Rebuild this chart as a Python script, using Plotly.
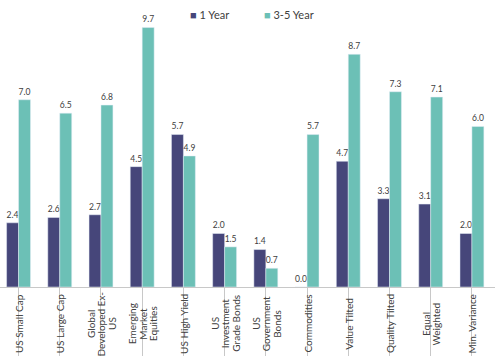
import plotly.graph_objects as go

categories = ["US Small Cap", "US Large Cap", "Global<br>Developed Ex-<br>US",
              "Emerging<br>Market<br>Equities", "US High Yield",
              "US<br>Investment<br>Grade Bonds", "US<br>Government<br>Bonds",
              "Commodities", "Value Tilted", "Quality Tilted",
              "Equal<br>Weighted", "Min. Variance"]
one_year = [2.4, 2.6, 2.7, 4.5, 5.7, 2.0, 1.4, 0.0, 4.7, 3.3, 3.1, 2.0]
three_five_year = [7.0, 6.5, 6.8, 9.7, 4.9, 1.5, 0.7, 5.7, 8.7, 7.3, 7.1, 6.0]
series_names = ["1 Year", "3-5 Year"]

NAVY = "#46467a"
TEAL = "#6cc0b6"
TXT = "#404040"
FONT = "Lato"

x = list(range(len(categories)))

fig = go.Figure()
for name, vals, col in [(series_names[0], one_year, NAVY), (series_names[1], three_five_year, TEAL)]:
    fig.add_trace(go.Bar(x=x, y=vals, name=name, marker_color=col,
                         text=[f"{v:.1f}" for v in vals], textposition="outside",
                         textfont=dict(color=TXT, size=12, family=FONT), cliponaxis=False))

W, H = 500, 356
mt, mb, ml, mr = 0, 69, 0, 5
plot_h = H - mt - mb
x_range = [-0.45, 11.56]
px_per_cat = (W - ml - mr) / (x_range[1] - x_range[0])
line_px = 10.5
y_mid = -(mb / 2 + 2) / plot_h

for i, c in enumerate(categories):
    lines = c.split("<br>")
    n = len(lines)
    for k, ln in enumerate(lines):
        off = (k - (n - 1) / 2) * line_px / px_per_cat
        fig.add_annotation(x=i + off, y=y_mid, xref="x", yref="paper",
                           text=ln, textangle=-90, showarrow=False,
                           xanchor="center", yanchor="middle", align="center",
                           font=dict(color=TXT, size=10, family=FONT))

# legend drawn as text entries
for name, col, lx in [(series_names[0], NAVY, 0.38), (series_names[1], TEAL, 0.53)]:
    fig.add_annotation(x=lx, y=1.0 - 14 / plot_h, xref="paper", yref="paper",
                       text=f'<span style="color:{col}">■</span> {name}',
                       showarrow=False, xanchor="left", yanchor="middle",
                       font=dict(color=TXT, size=11, family=FONT))

fig.update_layout(
    width=W, height=H,
    margin=dict(l=ml, r=mr, t=mt, b=mb),
    paper_bgcolor="white", plot_bgcolor="white",
    barmode="group", bargap=0.42, bargroupgap=0,
    showlegend=False,
    xaxis=dict(range=x_range, showticklabels=False, tickmode="array",
               tickvals=x, tickson="boundaries", ticks="outside", ticklen=mb,
               tickcolor="#c8c8c8", showline=True, linecolor="#c8c8c8",
               showgrid=False, zeroline=False),
    yaxis=dict(range=[0, 10.73], visible=False, showgrid=False, zeroline=False),
)

fig.write_html("out.html", config={"displayModeBar": False},
               post_script="document.body.style.margin='0';")
